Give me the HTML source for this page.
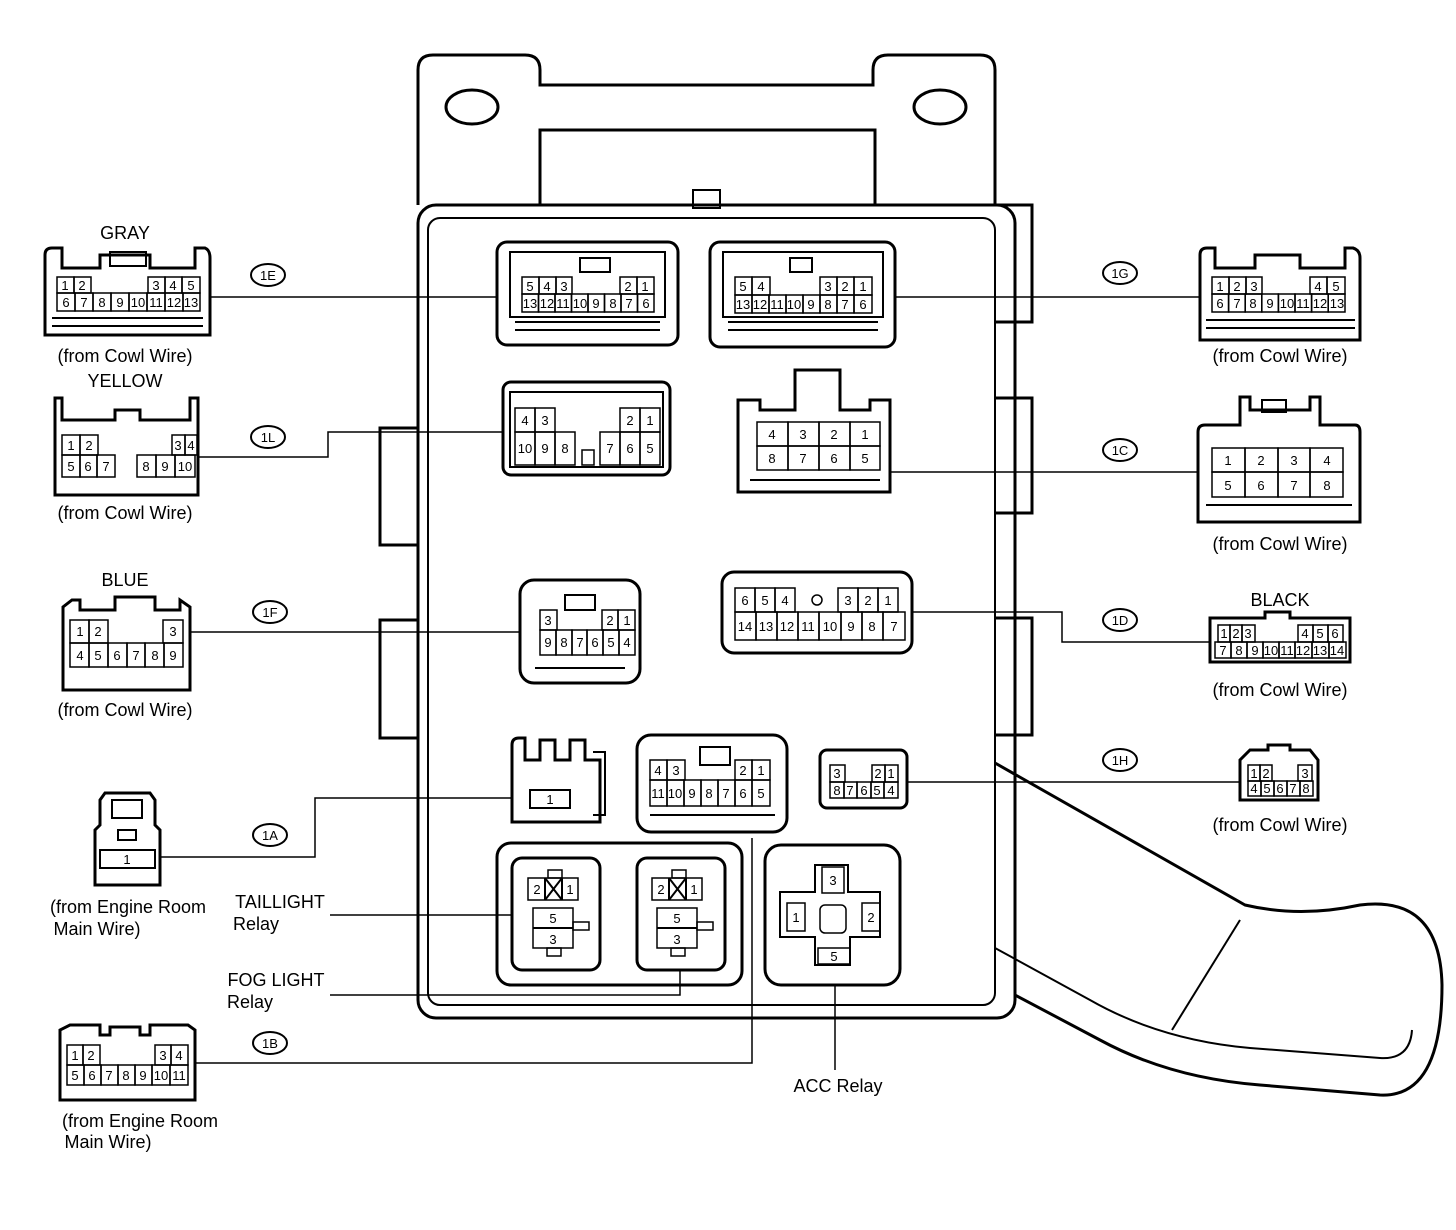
<!DOCTYPE html>
<html><head><meta charset="utf-8"><style>
html,body{margin:0;padding:0;background:#fff}
svg{display:block}
text{font-family:"Liberation Sans",sans-serif;fill:#000}
.t{font-size:18px;text-anchor:middle}
.n{font-size:13px;text-anchor:middle}
.k{fill:none;stroke:#000;stroke-width:3}
.m{fill:none;stroke:#000;stroke-width:2}
.c rect{fill:none;stroke:#000;stroke-width:1.5}
.l{fill:none;stroke:#000;stroke-width:1.5}
</style></head><body>
<svg width="1456" height="1230" viewBox="0 0 1456 1230" xmlns="http://www.w3.org/2000/svg">
<!-- top plate -->
<path class="k" d="M418,70 Q418,55 433,55 L525,55 Q540,55 540,70 L540,85 L873,85 L873,70 Q873,55 888,55 L980,55 Q995,55 995,70 L995,205"/>
<path class="k" d="M418,70 L418,205"/>
<ellipse class="k" cx="472" cy="107" rx="26" ry="17"/>
<ellipse class="k" cx="940" cy="107" rx="26" ry="17"/>
<path class="k" d="M540,205 L540,130 L875,130 L875,205"/>
<rect class="m" x="693" y="190" width="27" height="18"/>
<!-- main box -->
<rect class="k" x="418" y="205" width="597" height="813" rx="18"/>
<rect class="m" x="428" y="218" width="567" height="787" rx="12"/>
<!-- side tabs -->
<path class="k" d="M418,428 L380,428 L380,545 L418,545 M418,620 L380,620 L380,738 L418,738"/>
<path class="k" d="M995,205 L1032,205 L1032,322 L995,322 M995,398 L1032,398 L1032,513 L995,513 M995,618 L1032,618 L1032,735 L995,735"/>
<!-- arm -->
<path class="k" d="M995,763 L1245,905 Q1300,918 1360,905 Q1440,895 1442,985 Q1442,1098 1380,1095 L1260,1085 Q1170,1078 1100,1040 L1015,995"/>
<path class="m" d="M995,948 L1090,1000 Q1160,1040 1250,1048 L1380,1058 Q1410,1060 1412,1030"/>
<path class="m" d="M1172,1030 L1240,920"/>

<!-- ===== 1E left ===== -->
<text class="t" x="125" y="239">GRAY</text>
<path class="k" d="M45,335 L45,255 Q45,248 52,248 L62,248 L62,268 L100,268 L100,255 L150,255 L150,268 L195,268 L195,248 L205,248 Q210,250 210,258 L210,335 Z"/>
<rect class="m" x="110" y="252" width="36" height="14"/>
<g class="c"><rect x="57" y="277" width="17" height="16"/><rect x="74" y="277" width="17" height="16"/><rect x="148" y="277" width="17" height="16"/><rect x="165" y="277" width="17" height="16"/><rect x="182" y="277" width="18" height="16"/>
<rect x="57" y="293" width="18" height="18"/><rect x="75" y="293" width="18" height="18"/><rect x="93" y="293" width="18" height="18"/><rect x="111" y="293" width="18" height="18"/><rect x="129" y="293" width="18" height="18"/><rect x="147" y="293" width="18" height="18"/><rect x="165" y="293" width="18" height="18"/><rect x="183" y="293" width="17" height="18"/></g>
<g class="n"><text x="65" y="290">1</text><text x="82" y="290">2</text><text x="156" y="290">3</text><text x="173" y="290">4</text><text x="191" y="290">5</text>
<text x="66" y="307">6</text><text x="84" y="307">7</text><text x="102" y="307">8</text><text x="120" y="307">9</text><text x="138" y="307">10</text><text x="156" y="307">11</text><text x="174" y="307">12</text><text x="191" y="307">13</text></g>
<path class="m" d="M52,318 L203,318 M52,326 L203,326"/>
<text class="t" x="125" y="362">(from Cowl Wire)</text>
<ellipse class="m" cx="268" cy="275" rx="17" ry="11"/><text class="n" x="268" y="280">1E</text>
<path class="l" d="M210,297 L497,297"/>
<!-- 1E center -->
<rect class="k" x="497" y="242" width="181" height="103" rx="10"/>
<rect class="m" x="510" y="252" width="155" height="65"/>
<path class="m" d="M580,258 L610,258 L610,272 L580,272 Z M515,322 L660,322 M515,330 L660,330"/>
<g class="c"><rect x="522" y="277" width="17" height="17"/><rect x="539" y="277" width="17" height="17"/><rect x="556" y="277" width="16" height="17"/><rect x="620" y="277" width="17" height="17"/><rect x="637" y="277" width="17" height="17"/>
<rect x="522" y="294" width="16.5" height="18"/><rect x="538.5" y="294" width="16.5" height="18"/><rect x="555" y="294" width="16.5" height="18"/><rect x="571.5" y="294" width="16.5" height="18"/><rect x="588" y="294" width="16.5" height="18"/><rect x="604.5" y="294" width="16.5" height="18"/><rect x="621" y="294" width="16.5" height="18"/><rect x="637.5" y="294" width="16.5" height="18"/></g>
<g class="n"><text x="530" y="291">5</text><text x="547" y="291">4</text><text x="564" y="291">3</text><text x="628" y="291">2</text><text x="645" y="291">1</text>
<text x="530" y="308">13</text><text x="547" y="308">12</text><text x="563" y="308">11</text><text x="580" y="308">10</text><text x="596" y="308">9</text><text x="613" y="308">8</text><text x="629" y="308">7</text><text x="646" y="308">6</text></g>
<!-- 1G center -->
<rect class="k" x="710" y="242" width="185" height="105" rx="10"/>
<rect class="m" x="723" y="252" width="160" height="65"/>
<path class="m" d="M790,258 L812,258 L812,272 L790,272 Z M728,322 L878,322 M728,330 L878,330"/>
<g class="c"><rect x="735" y="277" width="17" height="18"/><rect x="752" y="277" width="18" height="18"/><rect x="820" y="277" width="17" height="18"/><rect x="837" y="277" width="17" height="18"/><rect x="854" y="277" width="18" height="18"/>
<rect x="735" y="295" width="17" height="18"/><rect x="752" y="295" width="17" height="18"/><rect x="769" y="295" width="17" height="18"/><rect x="786" y="295" width="17" height="18"/><rect x="803" y="295" width="17" height="18"/><rect x="820" y="295" width="17" height="18"/><rect x="837" y="295" width="17" height="18"/><rect x="854" y="295" width="18" height="18"/></g>
<g class="n"><text x="743" y="291">5</text><text x="761" y="291">4</text><text x="828" y="291">3</text><text x="845" y="291">2</text><text x="863" y="291">1</text>
<text x="743" y="309">13</text><text x="760" y="309">12</text><text x="777" y="309">11</text><text x="794" y="309">10</text><text x="811" y="309">9</text><text x="828" y="309">8</text><text x="845" y="309">7</text><text x="863" y="309">6</text></g>
<!-- 1G right -->
<path class="k" d="M1200,340 L1200,255 Q1200,248 1207,248 L1215,248 L1215,268 L1255,268 L1255,255 L1300,255 L1300,268 L1345,268 L1345,248 L1353,248 Q1360,250 1360,258 L1360,340 Z"/>
<g class="c"><rect x="1212" y="277" width="17" height="17"/><rect x="1229" y="277" width="17" height="17"/><rect x="1246" y="277" width="16" height="17"/><rect x="1310" y="277" width="17" height="17"/><rect x="1327" y="277" width="18" height="17"/>
<rect x="1212" y="294" width="16.6" height="18"/><rect x="1228.6" y="294" width="16.6" height="18"/><rect x="1245.2" y="294" width="16.6" height="18"/><rect x="1261.8" y="294" width="16.6" height="18"/><rect x="1278.4" y="294" width="16.6" height="18"/><rect x="1295" y="294" width="16.6" height="18"/><rect x="1311.6" y="294" width="16.6" height="18"/><rect x="1328.2" y="294" width="16.8" height="18"/></g>
<g class="n"><text x="1220" y="291">1</text><text x="1237" y="291">2</text><text x="1254" y="291">3</text><text x="1318" y="291">4</text><text x="1336" y="291">5</text>
<text x="1220" y="308">6</text><text x="1237" y="308">7</text><text x="1253" y="308">8</text><text x="1270" y="308">9</text><text x="1287" y="308">10</text><text x="1303" y="308">11</text><text x="1320" y="308">12</text><text x="1337" y="308">13</text></g>
<path class="m" d="M1206,320 L1355,320 M1206,328 L1355,328"/>
<text class="t" x="1280" y="362">(from Cowl Wire)</text>
<ellipse class="m" cx="1120" cy="273" rx="17" ry="11"/><text class="n" x="1120" y="278">1G</text>
<path class="l" d="M895,297 L1200,297"/>

<!-- ===== 1L ===== -->
<text class="t" x="125" y="387">YELLOW</text>
<path class="k" d="M55,495 L55,398 L62,398 L62,420 L115,420 L115,410 L140,410 L140,420 L190,420 L190,398 L198,398 L198,495 Z"/>
<g class="c"><rect x="62" y="435" width="18" height="20"/><rect x="80" y="435" width="18" height="20"/><rect x="172" y="435" width="13" height="20"/><rect x="185" y="435" width="12" height="20"/>
<rect x="62" y="455" width="18" height="22"/><rect x="80" y="455" width="17" height="22"/><rect x="97" y="455" width="18" height="22"/><rect x="137" y="455" width="19" height="22"/><rect x="156" y="455" width="19" height="22"/><rect x="175" y="455" width="20" height="22"/></g>
<g class="n"><text x="71" y="450">1</text><text x="89" y="450">2</text><text x="178" y="450">3</text><text x="191" y="450">4</text>
<text x="71" y="471">5</text><text x="88" y="471">6</text><text x="106" y="471">7</text><text x="146" y="471">8</text><text x="165" y="471">9</text><text x="185" y="471">10</text></g>
<text class="t" x="125" y="519">(from Cowl Wire)</text>
<ellipse class="m" cx="268" cy="437" rx="17" ry="11"/><text class="n" x="268" y="442">1L</text>
<path class="l" d="M198,457 L328,457 L328,432 L503,432"/>
<rect class="k" x="503" y="382" width="167" height="93" rx="8"/>
<rect class="m" x="510" y="392" width="153" height="75"/>
<g class="c"><rect x="515" y="408" width="20" height="24"/><rect x="535" y="408" width="20" height="24"/><rect x="620" y="408" width="20" height="24"/><rect x="640" y="408" width="20" height="24"/>
<rect x="515" y="432" width="20" height="33"/><rect x="535" y="432" width="20" height="33"/><rect x="555" y="432" width="20" height="33"/><rect x="600" y="432" width="20" height="33"/><rect x="620" y="432" width="20" height="33"/><rect x="640" y="432" width="20" height="33"/><rect x="582" y="450" width="12" height="15"/></g>
<g class="n"><text x="525" y="425">4</text><text x="545" y="425">3</text><text x="630" y="425">2</text><text x="650" y="425">1</text>
<text x="525" y="453">10</text><text x="545" y="453">9</text><text x="565" y="453">8</text><text x="610" y="453">7</text><text x="630" y="453">6</text><text x="650" y="453">5</text></g>

<!-- ===== 1C ===== -->
<path class="k" d="M738,492 L738,400 L760,400 L760,410 L795,410 L795,370 L840,370 L840,410 L870,410 L870,400 L890,400 L890,492 Z"/>
<g class="c"><rect x="757" y="422" width="31" height="24"/><rect x="788" y="422" width="31" height="24"/><rect x="819" y="422" width="31" height="24"/><rect x="850" y="422" width="30" height="24"/>
<rect x="757" y="446" width="31" height="24"/><rect x="788" y="446" width="31" height="24"/><rect x="819" y="446" width="31" height="24"/><rect x="850" y="446" width="30" height="24"/></g>
<g class="n"><text x="772" y="439">4</text><text x="803" y="439">3</text><text x="834" y="439">2</text><text x="865" y="439">1</text><text x="772" y="463">8</text><text x="803" y="463">7</text><text x="834" y="463">6</text><text x="865" y="463">5</text></g>
<path class="m" d="M750,480 L880,480"/>
<path class="k" d="M1198,522 L1198,432 Q1198,425 1205,425 L1240,425 L1240,397 L1250,397 L1250,410 L1310,410 L1310,397 L1320,397 L1320,425 L1355,425 Q1360,425 1360,432 L1360,522 Z"/>
<rect class="m" x="1262" y="400" width="24" height="12"/>
<g class="c"><rect x="1212" y="448" width="33" height="24"/><rect x="1245" y="448" width="33" height="24"/><rect x="1278" y="448" width="32" height="24"/><rect x="1310" y="448" width="33" height="24"/>
<rect x="1212" y="472" width="33" height="25"/><rect x="1245" y="472" width="33" height="25"/><rect x="1278" y="472" width="32" height="25"/><rect x="1310" y="472" width="33" height="25"/></g>
<g class="n"><text x="1228" y="465">1</text><text x="1261" y="465">2</text><text x="1294" y="465">3</text><text x="1327" y="465">4</text><text x="1228" y="490">5</text><text x="1261" y="490">6</text><text x="1294" y="490">7</text><text x="1327" y="490">8</text></g>
<path class="m" d="M1206,505 L1352,505"/>
<text class="t" x="1280" y="550">(from Cowl Wire)</text>
<ellipse class="m" cx="1120" cy="450" rx="17" ry="11"/><text class="n" x="1120" y="455">1C</text>
<path class="l" d="M890,472 L1198,472"/>

<!-- ===== 1F ===== -->
<text class="t" x="125" y="586">BLUE</text>
<path class="k" d="M63,690 L63,607 L72,600 L80,600 L80,610 L115,610 L115,597 L155,597 L155,610 L180,610 L180,600 L190,607 L190,690 Z"/>
<g class="c"><rect x="70" y="620" width="19" height="23"/><rect x="89" y="620" width="19" height="23"/><rect x="163" y="620" width="20" height="23"/>
<rect x="70" y="643" width="19" height="24"/><rect x="89" y="643" width="19" height="24"/><rect x="108" y="643" width="19" height="24"/><rect x="127" y="643" width="18" height="24"/><rect x="145" y="643" width="19" height="24"/><rect x="164" y="643" width="19" height="24"/></g>
<g class="n"><text x="80" y="636">1</text><text x="98" y="636">2</text><text x="173" y="636">3</text><text x="80" y="660">4</text><text x="98" y="660">5</text><text x="117" y="660">6</text><text x="136" y="660">7</text><text x="155" y="660">8</text><text x="173" y="660">9</text></g>
<text class="t" x="125" y="716">(from Cowl Wire)</text>
<ellipse class="m" cx="270" cy="612" rx="17" ry="11"/><text class="n" x="270" y="617">1F</text>
<path class="l" d="M190,632 L520,632"/>
<rect class="k" x="520" y="580" width="120" height="103" rx="14"/>
<path class="m" d="M565,595 L595,595 L595,610 L565,610 Z M535,668 L625,668"/>
<g class="c"><rect x="540" y="610" width="17" height="20"/><rect x="602" y="610" width="16" height="20"/><rect x="618" y="610" width="17" height="20"/>
<rect x="540" y="630" width="16" height="25"/><rect x="556" y="630" width="16" height="25"/><rect x="572" y="630" width="15" height="25"/><rect x="587" y="630" width="16" height="25"/><rect x="603" y="630" width="16" height="25"/><rect x="619" y="630" width="16" height="25"/></g>
<g class="n"><text x="548" y="625">3</text><text x="610" y="625">2</text><text x="627" y="625">1</text><text x="548" y="647">9</text><text x="564" y="647">8</text><text x="580" y="647">7</text><text x="595" y="647">6</text><text x="611" y="647">5</text><text x="627" y="647">4</text></g>

<!-- ===== 1D ===== -->
<rect class="k" x="722" y="572" width="190" height="81" rx="12"/>
<g class="c"><rect x="735" y="588" width="20" height="24"/><rect x="755" y="588" width="20" height="24"/><rect x="775" y="588" width="20" height="24"/><rect x="838" y="588" width="20" height="24"/><rect x="858" y="588" width="20" height="24"/><rect x="878" y="588" width="20" height="24"/>
<rect x="735" y="612" width="21" height="28"/><rect x="756" y="612" width="21" height="28"/><rect x="777" y="612" width="21" height="28"/><rect x="798" y="612" width="21" height="28"/><rect x="819" y="612" width="22" height="28"/><rect x="841" y="612" width="21" height="28"/><rect x="862" y="612" width="21" height="28"/><rect x="883" y="612" width="22" height="28"/></g>
<circle class="l" cx="817" cy="600" r="5"/>
<g class="n"><text x="745" y="605">6</text><text x="765" y="605">5</text><text x="785" y="605">4</text><text x="848" y="605">3</text><text x="868" y="605">2</text><text x="888" y="605">1</text>
<text x="745" y="631">14</text><text x="766" y="631">13</text><text x="787" y="631">12</text><text x="808" y="631">11</text><text x="830" y="631">10</text><text x="851" y="631">9</text><text x="872" y="631">8</text><text x="894" y="631">7</text></g>
<text class="t" x="1280" y="606">BLACK</text>
<path class="k" d="M1210,662 L1210,618 L1265,618 L1265,612 L1290,612 L1290,618 L1350,618 L1350,662 Z"/>
<g class="c"><rect x="1218" y="625" width="12" height="17"/><rect x="1230" y="625" width="12" height="17"/><rect x="1242" y="625" width="13" height="17"/><rect x="1298" y="625" width="15" height="17"/><rect x="1313" y="625" width="15" height="17"/><rect x="1328" y="625" width="15" height="17"/>
<rect x="1215" y="642" width="16" height="16"/><rect x="1231" y="642" width="16" height="16"/><rect x="1247" y="642" width="16" height="16"/><rect x="1263" y="642" width="16" height="16"/><rect x="1279" y="642" width="16" height="16"/><rect x="1295" y="642" width="17" height="16"/><rect x="1312" y="642" width="17" height="16"/><rect x="1329" y="642" width="17" height="16"/></g>
<g class="n"><text x="1224" y="638">1</text><text x="1236" y="638">2</text><text x="1248" y="638">3</text><text x="1305" y="638">4</text><text x="1320" y="638">5</text><text x="1335" y="638">6</text>
<text x="1223" y="655">7</text><text x="1239" y="655">8</text><text x="1255" y="655">9</text><text x="1271" y="655">10</text><text x="1287" y="655">11</text><text x="1303" y="655">12</text><text x="1320" y="655">13</text><text x="1337" y="655">14</text></g>
<text class="t" x="1280" y="696">(from Cowl Wire)</text>
<ellipse class="m" cx="1120" cy="620" rx="17" ry="11"/><text class="n" x="1120" y="625">1D</text>
<path class="l" d="M912,612 L1062,612 L1062,642 L1210,642"/>

<!-- ===== 1A ===== -->
<path class="k" d="M512,822 L512,745 Q512,738 519,738 L525,738 L525,760 L540,760 L540,740 L555,740 L555,760 L570,760 L570,740 L585,740 L585,760 L593,760 L600,760 L600,822 Z"/>
<path class="m" d="M593,752 L605,752 L605,815 L593,815"/>
<rect class="m" x="530" y="790" width="40" height="18"/><text class="n" x="550" y="804">1</text>
<path class="k" d="M95,885 L95,830 L100,825 L100,800 L105,793 L150,793 L155,800 L155,825 L160,830 L160,885 Z"/>
<rect class="m" x="112" y="800" width="30" height="18"/><rect class="m" x="118" y="830" width="18" height="10"/>
<rect class="m" x="100" y="850" width="55" height="18"/><text class="n" x="127" y="864">1</text>
<text class="t" x="128" y="913">(from Engine Room</text><text class="t" x="97" y="935">Main Wire)</text>
<ellipse class="m" cx="270" cy="835" rx="17" ry="11"/><text class="n" x="270" y="840">1A</text>
<path class="l" d="M160,857 L315,857 L315,798 L512,798"/>

<!-- ===== 1B center ===== -->
<rect class="k" x="637" y="735" width="150" height="97" rx="14"/>
<path class="m" d="M700,747 L730,747 L730,765 L700,765 Z M650,815 L775,815"/>
<g class="c"><rect x="650" y="760" width="17" height="20"/><rect x="667" y="760" width="18" height="20"/><rect x="735" y="760" width="17" height="20"/><rect x="752" y="760" width="18" height="20"/>
<rect x="650" y="780" width="17" height="26"/><rect x="667" y="780" width="17" height="26"/><rect x="684" y="780" width="17" height="26"/><rect x="701" y="780" width="17" height="26"/><rect x="718" y="780" width="17" height="26"/><rect x="735" y="780" width="17" height="26"/><rect x="752" y="780" width="18" height="26"/></g>
<g class="n"><text x="658" y="775">4</text><text x="676" y="775">3</text><text x="743" y="775">2</text><text x="761" y="775">1</text>
<text x="658" y="798">11</text><text x="675" y="798">10</text><text x="692" y="798">9</text><text x="709" y="798">8</text><text x="726" y="798">7</text><text x="743" y="798">6</text><text x="761" y="798">5</text></g>
<!-- 1B left -->
<path class="k" d="M60,1100 L60,1030 L70,1025 L100,1025 L100,1035 L110,1035 L110,1027 L140,1027 L140,1035 L150,1035 L150,1025 L188,1025 L195,1030 L195,1100 Z"/>
<g class="c"><rect x="67" y="1045" width="16" height="20"/><rect x="83" y="1045" width="17" height="20"/><rect x="155" y="1045" width="16" height="20"/><rect x="171" y="1045" width="17" height="20"/>
<rect x="67" y="1065" width="17" height="20"/><rect x="84" y="1065" width="17" height="20"/><rect x="101" y="1065" width="17" height="20"/><rect x="118" y="1065" width="17" height="20"/><rect x="135" y="1065" width="17" height="20"/><rect x="152" y="1065" width="18" height="20"/><rect x="170" y="1065" width="18" height="20"/></g>
<g class="n"><text x="75" y="1060">1</text><text x="91" y="1060">2</text><text x="163" y="1060">3</text><text x="179" y="1060">4</text>
<text x="75" y="1080">5</text><text x="92" y="1080">6</text><text x="109" y="1080">7</text><text x="126" y="1080">8</text><text x="143" y="1080">9</text><text x="161" y="1080">10</text><text x="179" y="1080">11</text></g>
<text class="t" x="140" y="1127">(from Engine Room</text><text class="t" x="108" y="1148">Main Wire)</text>
<ellipse class="m" cx="270" cy="1043" rx="17" ry="11"/><text class="n" x="270" y="1048">1B</text>
<path class="l" d="M195,1063 L752,1063 L752,838"/>

<!-- ===== 1H ===== -->
<rect class="k" x="820" y="750" width="87" height="58" rx="7"/>
<g class="c"><rect x="830" y="765" width="15" height="17"/><rect x="872" y="765" width="13" height="17"/><rect x="885" y="765" width="13" height="17"/>
<rect x="830" y="782" width="14" height="16"/><rect x="844" y="782" width="13" height="16"/><rect x="857" y="782" width="14" height="16"/><rect x="871" y="782" width="13" height="16"/><rect x="884" y="782" width="14" height="16"/></g>
<g class="n"><text x="837" y="778">3</text><text x="878" y="778">2</text><text x="891" y="778">1</text><text x="837" y="795">8</text><text x="850" y="795">7</text><text x="864" y="795">6</text><text x="877" y="795">5</text><text x="891" y="795">4</text></g>
<path class="k" d="M1240,800 L1240,760 L1250,750 L1268,750 L1268,745 L1290,745 L1290,750 L1310,750 L1318,760 L1318,800 Z"/>
<g class="c"><rect x="1248" y="765" width="12" height="16"/><rect x="1260" y="765" width="12" height="16"/><rect x="1298" y="765" width="14" height="16"/>
<rect x="1248" y="781" width="13" height="15"/><rect x="1261" y="781" width="13" height="15"/><rect x="1274" y="781" width="13" height="15"/><rect x="1287" y="781" width="13" height="15"/><rect x="1300" y="781" width="13" height="15"/></g>
<g class="n"><text x="1254" y="778">1</text><text x="1266" y="778">2</text><text x="1305" y="778">3</text><text x="1254" y="793">4</text><text x="1267" y="793">5</text><text x="1280" y="793">6</text><text x="1293" y="793">7</text><text x="1306" y="793">8</text></g>
<text class="t" x="1280" y="831">(from Cowl Wire)</text>
<ellipse class="m" cx="1120" cy="760" rx="17" ry="11"/><text class="n" x="1120" y="765">1H</text>
<path class="l" d="M907,782 L1240,782"/>

<!-- ===== relays ===== -->
<rect class="k" x="497" y="843" width="245" height="142" rx="14"/>
<rect class="k" x="512" y="858" width="88" height="112" rx="10"/>
<rect class="k" x="637" y="858" width="88" height="112" rx="10"/>
<g class="c">
<rect x="548" y="870" width="14" height="8"/><rect x="528" y="878" width="50" height="22"/><rect x="533" y="908" width="40" height="40"/><rect x="573" y="922" width="16" height="8"/><rect x="547" y="948" width="14" height="8"/>
<rect x="672" y="870" width="14" height="8"/><rect x="652" y="878" width="50" height="22"/><rect x="657" y="908" width="40" height="40"/><rect x="697" y="922" width="16" height="8"/><rect x="671" y="948" width="14" height="8"/></g>
<path class="m" d="M545,878 L545,900 M562,878 L562,900 M545,878 L562,900 M562,878 L545,900 M533,928 L573,928 M669,878 L669,900 M686,878 L686,900 M669,878 L686,900 M686,878 L669,900 M657,928 L697,928"/>
<g class="n"><text x="537" y="894">2</text><text x="570" y="894">1</text><text x="553" y="923">5</text><text x="553" y="944">3</text>
<text x="661" y="894">2</text><text x="694" y="894">1</text><text x="677" y="923">5</text><text x="677" y="944">3</text></g>
<rect class="k" x="765" y="845" width="135" height="140" rx="16"/>
<path class="m" d="M815,865 L848,865 L848,892 L880,892 L880,937 L850,937 L850,965 L815,965 L815,937 L780,937 L780,892 L815,892 Z"/>
<g class="c"><rect x="822" y="867" width="22" height="26"/><rect x="787" y="903" width="18" height="28"/><rect x="862" y="903" width="18" height="28"/><rect x="818" y="948" width="32" height="16"/><rect x="820" y="905" width="26" height="28" rx="5"/></g>
<g class="n"><text x="833" y="885">3</text><text x="796" y="922">1</text><text x="871" y="922">2</text><text x="834" y="961">5</text></g>
<text class="t" x="280" y="908">TAILLIGHT</text><text class="t" x="256" y="930">Relay</text>
<path class="l" d="M330,915 L512,915"/>
<text class="t" x="276" y="986">FOG LIGHT</text><text class="t" x="250" y="1008">Relay</text>
<path class="l" d="M330,995 L680,995 L680,970"/>
<text class="t" x="838" y="1092">ACC Relay</text>
<path class="l" d="M835,985 L835,1070"/>
</svg>
</body></html>
